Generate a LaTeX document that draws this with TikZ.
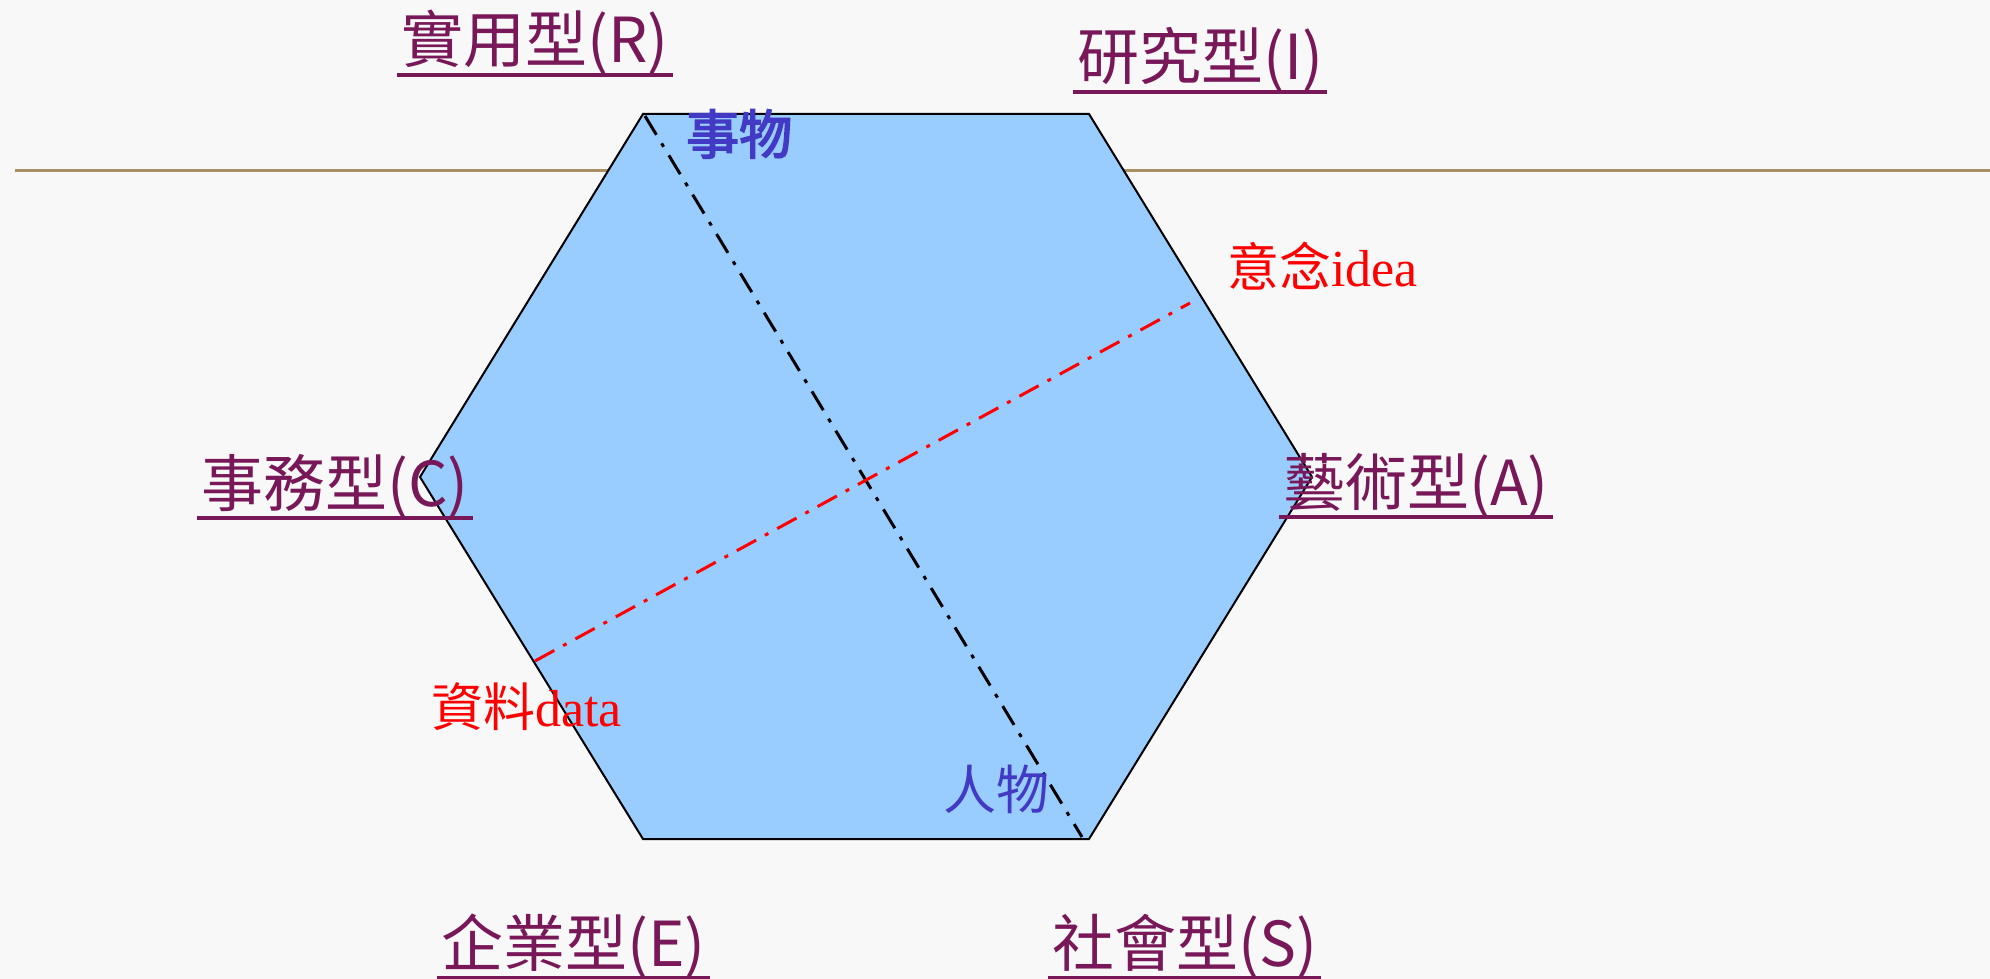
\documentclass[tikz,border=0pt]{standalone}
\usepackage{fontspec}
\setmainfont{Liberation Serif}
\newfontfamily\cjk{Noto Sans CJK TC}
\newfontfamily\cjkfb{Noto Sans CJK TC}[FakeBold=3]
\definecolor{bg}{RGB}{248,248,248}
\definecolor{typ}{RGB}{120,24,88}
\definecolor{hexblue}{RGB}{153,204,255}
\definecolor{tanline}{RGB}{170,142,100}
\definecolor{thing}{RGB}{66,58,196}
\definecolor{idred}{RGB}{255,0,0}
\begin{document}
\begin{tikzpicture}[x=1pt,y=-1pt,
  lbl/.style={inner xsep=4pt,inner ysep=0pt,anchor=base west,text=typ,font=\cjk\fontsize{62}{62}\selectfont},
  ul/.style={draw=typ,line width=3.5pt},
  axis/.style={line width=3pt,dash pattern=on 22pt off 10pt on 4pt off 10pt},
  thinglbl/.style={inner sep=0pt,anchor=base west,text=thing,font=\cjk\fontsize{53}{53}\selectfont},
  redlbl/.style={inner sep=0pt,anchor=base west,text=idred,font=\fontsize{52}{52}\selectfont}]
\fill[bg] (0,0) rectangle (1990,979);
\useasboundingbox (0,0) rectangle (1990,979);
% horizontal rule
\coordinate (hl) at (15,171);
\coordinate (hr) at (1990,171);
\draw[tanline,line width=3pt] (hl) -- (hr);
% hexagon
\coordinate (v1) at (643,114);
\coordinate (v2) at (1089,114);
\coordinate (v3) at (1312,477);
\coordinate (v4) at (1089,839);
\coordinate (v5) at (643,839);
\coordinate (v6) at (420,477);
\filldraw[fill=hexblue,draw=black,line width=2pt,line join=miter] (v1) -- (v2) -- (v3) -- (v4) -- (v5) -- (v6) -- cycle;
% axes
\coordinate (ta) at (645,116);
\coordinate (tb) at (1082,837);
\draw[axis,black] (ta) -- (tb);
\coordinate (ra) at (535,661);
\coordinate (rb) at (1190,303);
\draw[axis,idred] (ra) -- (rb);
% type labels
\node[lbl] (R) at (397,63) {實用型(R)};
\node[lbl] (I) at (1073,80) {研究型(I)};
\node[lbl] (C) at (197,506) {事務型(C)};
\node[lbl] (A) at (1279,505) {藝術型(A)};
\node[lbl] (S) at (1048,966) {社會型(S)};
\node[lbl] (E) at (437,966) {企業型(E)};
\foreach \n in {R,I,C,A,S,E}
  \draw[ul] ([yshift=-12pt]\n.base west) -- ([yshift=-12pt]\n.base east);
% inner labels
\node[thinglbl,font=\cjkfb\fontsize{53}{53}\selectfont] (thing) at (686,154) {事物};
\node[thinglbl] (person) at (943,809) {人物};
\node[redlbl] (idea) at (1227,286) {{\cjk 意念}idea};
\node[redlbl] (data) at (431,726) {{\cjk 資料}data};
\end{tikzpicture}
\end{document}
